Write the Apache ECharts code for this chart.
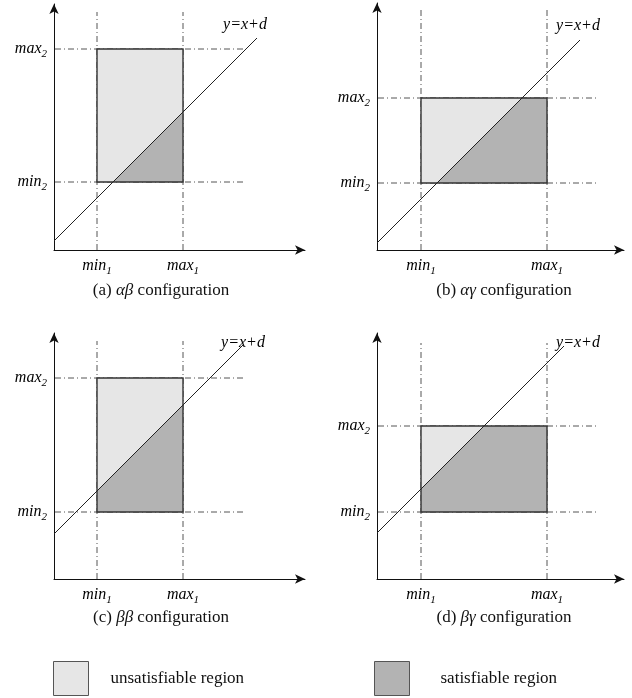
<!DOCTYPE html>
<html>
<head>
<meta charset="utf-8">
<script src="https://cdn.jsdelivr.net/npm/echarts@6/dist/echarts.min.js"></script>
<style>
  html, body { margin: 0; padding: 0; background: #fff; }
  #chart { width: 632px; height: 698px; }
</style>
</head>
<body>
<div id="chart"></div>
<script>
// four configurations, values in axis units (1 unit ~ 10px)
var captions = ['(a) {g|αβ} configuration', '(b) {g|αγ} configuration', '(c) {g|ββ} configuration', '(d) {g|βγ} configuration'];
var min1 = [4.3, 4.4, 4.3, 4.4];
var max1 = [12.9, 17.0, 12.9, 17.0];
var min2 = [6.8, 6.7, 6.7, 6.7];
var max2 = [20.1, 15.2, 20.1, 15.3];
var dVals = [0.9, 0.7, 4.5, 4.6];       // y = x + d
var lineEndX = [20.3, 20.3, 18.9, 18.7];
var axisMaxX = [25.1, 24.7, 25.1, 24.7];
var axisMaxY = [24.6, 24.7, 24.6, 24.6];
var guideTopY = [23.8, 24.0, 23.8, 23.6];  // where vertical guides start
var guideEndX = [18.9, 22.2, 18.9, 22.2];  // where horizontal guides end
var eqLabelAt = [[19.1, 22.5], [20.1, 22.4], [18.9, 23.6], [20.1, 23.6]];
var legendNames = ['unsatisfiable region', 'satisfiable region'];

var SCALE = 10;
var origins = [[54, 250], [377, 250], [54, 579], [377, 579]];
var captionPos = [[161, 291], [504, 291], [161, 618], [504, 618]];
var FONT = '"Liberation Serif", "DejaVu Serif", serif';
var LIGHT = '#e6e6e6', DARK = '#b3b3b3';

var chart = echarts.init(document.getElementById('chart'));

// keep the part of polygon pts where y <= x + d
function clipBelow(pts, d){
    var out = [];
    for (var i = 0; i < pts.length; i++) {
        var a = pts[i], b = pts[(i + 1) % pts.length];
        var fa = a[0] + d - a[1], fb = b[0] + d - b[1];
        if (fa >= 0) out.push(a);
        if ((fa >= 0) !== (fb >= 0)) {
            var t = fa / (fa - fb);
            out.push([a[0] + t * (b[0] - a[0]), a[1] + t * (b[1] - a[1])]);
        }
    }
    return out;
}

var subRich = {
    i: { fontFamily: FONT, fontStyle: 'italic', fontSize: 16, lineHeight: 22, color: '#111' },
    s: { fontFamily: FONT, fontStyle: 'italic', fontSize: 11, lineHeight: 12, verticalAlign: 'bottom', color: '#111' }
};

var grids = [], xAxes = [], yAxes = [], series = [], graphics = [];

for (var k = 0; k < 4; k++) {
    grids.push({
        left: origins[k][0],
        top: origins[k][1] - axisMaxY[k] * SCALE,
        width: axisMaxX[k] * SCALE,
        height: axisMaxY[k] * SCALE
    });
    var axisLine = { show: true, symbol: ['none', 'arrow'], symbolSize: [7, 10], lineStyle: { color: '#111', width: 1 } };
    xAxes.push({ type: 'value', gridIndex: k, min: 0, max: axisMaxX[k], axisLine: axisLine,
        axisTick: { show: false }, axisLabel: { show: false }, splitLine: { show: false } });
    yAxes.push({ type: 'value', gridIndex: k, min: 0, max: axisMaxY[k], axisLine: axisLine,
        axisTick: { show: false }, axisLabel: { show: false }, splitLine: { show: false } });

    var rect = [[min1[k], min2[k]], [max1[k], min2[k]], [max1[k], max2[k]], [min1[k], max2[k]]];
    var below = clipBelow(rect, dVals[k]);

    // regions
    series.push({
        type: 'custom', name: legendNames[0], xAxisIndex: k, yAxisIndex: k,
        itemStyle: { color: LIGHT },
        data: [[min1[k], min2[k]]],
        renderItem: (function(rect){
            return function(params, api){
                return { type: 'polygon', shape: { points: rect.map(function(p){ return api.coord(p); }) },
                    style: { fill: LIGHT } };
            };
        })(rect)
    });
    series.push({
        type: 'custom', name: legendNames[1], xAxisIndex: k, yAxisIndex: k,
        itemStyle: { color: DARK },
        data: [[max1[k], min2[k]]],
        renderItem: (function(rect, below){
            return function(params, api){
                return { type: 'group', children: [
                    { type: 'polygon', shape: { points: below.map(function(p){ return api.coord(p); }) },
                      style: { fill: DARK } },
                    { type: 'polygon', shape: { points: rect.map(function(p){ return api.coord(p); }) },
                      style: { fill: null, stroke: '#333', lineWidth: 1.4 } }
                ] };
            };
        })(rect, below)
    });

    // dash-dot guides
    var guides = [
        [[min1[k], 0], [min1[k], guideTopY[k]]],
        [[max1[k], 0], [max1[k], guideTopY[k]]],
        [[0.1, min2[k]], [guideEndX[k], min2[k]]],
        [[0.1, max2[k]], [guideEndX[k], max2[k]]]
    ];
    guides.forEach(function(g){
        series.push({ type: 'line', xAxisIndex: k, yAxisIndex: k, data: g, symbol: 'none', silent: true,
            z: 1, lineStyle: { color: '#555', width: 1, type: [6, 3, 1, 3] } });
    });

    // y = x + d
    series.push({ type: 'line', xAxisIndex: k, yAxisIndex: k, symbol: 'none', silent: true, z: 3,
        data: [[0, dVals[k]], [lineEndX[k], lineEndX[k] + dVals[k]]],
        lineStyle: { color: '#222', width: 1 } });

    // labels
    var texts = [
        { at: [min1[k], 0], text: '{i|min}{s|1}', dx: 0, dy: 16, align: 'center' },
        { at: [max1[k], 0], text: '{i|max}{s|1}', dx: 0, dy: 16, align: 'center' },
        { at: [0, max2[k]], text: '{i|max}{s|2}', dx: -7, dy: 0, align: 'right' },
        { at: [0, min2[k]], text: '{i|min}{s|2}', dx: -7, dy: 0, align: 'right' },
        { at: eqLabelAt[k], text: '{i|y=x+d}', dx: 0, dy: 0, align: 'center' }
    ];
    series.push({
        type: 'custom', xAxisIndex: k, yAxisIndex: k, silent: true, z: 5,
        data: texts.map(function(t){ return t.at; }),
        renderItem: (function(texts){
            return function(params, api){
                var t = texts[params.dataIndex];
                var p = api.coord([api.value(0), api.value(1)]);
                return { type: 'text', x: p[0] + t.dx, y: p[1] + t.dy,
                    style: { text: t.text, rich: subRich, align: t.align, verticalAlign: 'middle' } };
            };
        })(texts)
    });

    graphics.push({ type: 'text', x: captionPos[k][0], y: captionPos[k][1],
        style: { text: captions[k], align: 'center', verticalAlign: 'middle',
            font: '17px ' + FONT, fill: '#111',
            rich: { g: { fontFamily: FONT, fontStyle: 'italic', fontSize: 17, fill: '#111' } } } });
}

var legendBase = { orient: 'horizontal', top: 661, padding: 0, itemWidth: 35, itemHeight: 34, icon: 'rect',
    selectedMode: false, itemGap: 10 };
var legends = [
    Object.assign({}, legendBase, { left: 53, data: [{ name: legendNames[0],
        itemStyle: { color: LIGHT, borderColor: '#555', borderWidth: 1 } }],
        textStyle: { fontFamily: FONT, fontSize: 17, color: '#111', padding: [0, 0, 0, 17] } }),
    Object.assign({}, legendBase, { left: 374, data: [{ name: legendNames[1],
        itemStyle: { color: DARK, borderColor: '#555', borderWidth: 1 } }],
        textStyle: { fontFamily: FONT, fontSize: 17, color: '#111', padding: [0, 0, 0, 26] } })
];

chart.setOption({
    animation: false,
    backgroundColor: '#fff',
    grid: grids,
    xAxis: xAxes,
    yAxis: yAxes,
    legend: legends,
    graphic: graphics,
    series: series
});
</script>
</body>
</html>
